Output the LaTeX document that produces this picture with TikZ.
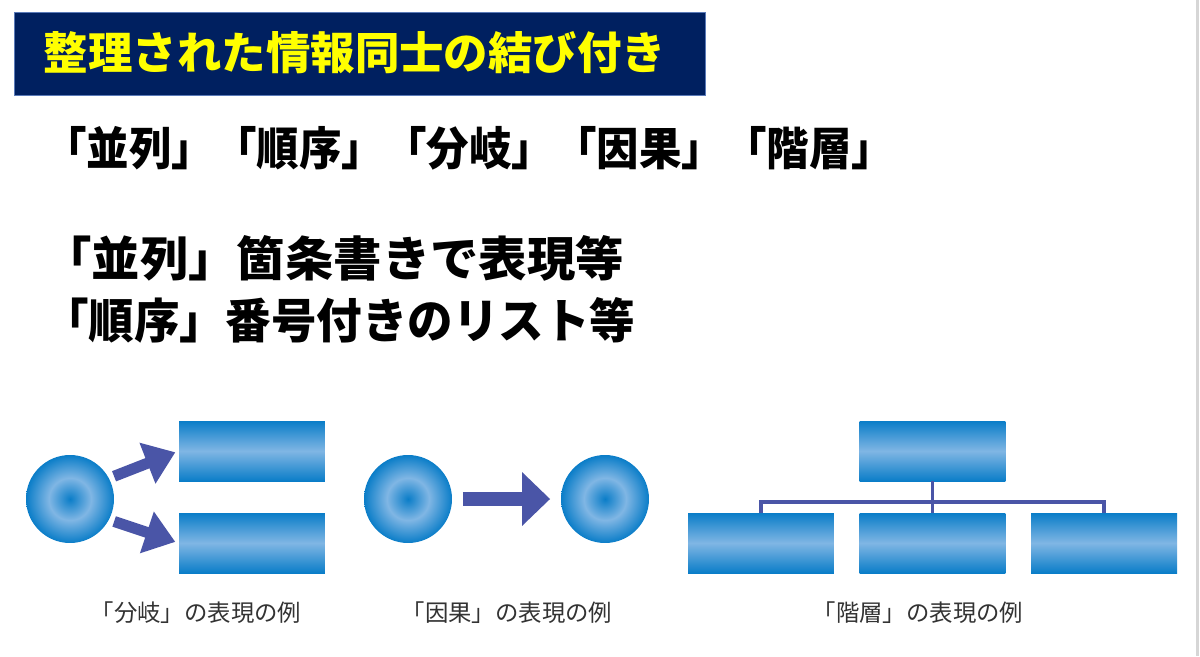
\documentclass[tikz,border=0pt]{standalone}
\usepackage{fontspec}
\usetikzlibrary{arrows.meta}
\newfontfamily\jpfont{Noto Sans CJK JP}
\definecolor{KNavy}{HTML}{002060}
\definecolor{KNavyLine}{HTML}{5A7AB8}
\definecolor{KYellow}{HTML}{FFFF00}
\definecolor{KDark}{HTML}{0A7DC8}
\definecolor{KLight}{HTML}{80B6E4}
\definecolor{KArrow}{HTML}{4A55A7}
\definecolor{KGrey}{HTML}{333333}
\definecolor{KEdge}{HTML}{D6D6D6}
\pgfdeclareradialshading{ballring}{\pgfpoint{0bp}{0bp}}{color(0bp)=(KDark); color(12bp)=(KLight); color(25bp)=(KDark); color(50bp)=(KDark)}

\tikzset{
  ball/.style={circle,minimum size=1.76cm,inner sep=0pt,shade,shading=ballring},
  bar/.style={rectangle,minimum width=2.92cm,minimum height=1.2cm,inner sep=0pt,
    top color=KDark,bottom color=KDark,middle color=KLight},
  branch/.style={KArrow,line width=0.22cm,-{Triangle[length=0.6cm,width=0.84cm]}},
  cause/.style={KArrow,line width=0.28cm,-{Triangle[length=0.56cm,width=1.04cm]}},
  treeline/.style={KArrow,line width=2pt},
  headline/.style={anchor=west,inner sep=0pt,font=\jpfont\bfseries},
  caption/.style={inner sep=0pt,text=KGrey,font=\jpfont\fontsize{13.3}{16}\selectfont}
}

\begin{document}
\begin{tikzpicture}[x=0.02cm,y=-0.02cm]
\path[use as bounding box] (0,0) rectangle (1200,656);
\fill[white] (0,0) rectangle (1200,656);
\fill[KEdge] (1196,0) rectangle (1199,656);

% title banner
\fill[KNavy] (14,12) rectangle (705,95);
\draw[KNavyLine,line width=.4pt] (14,12) rectangle (705,95);
\node[inner sep=0pt,text=KYellow,font=\jpfont\bfseries\fontsize{25.3}{30}\selectfont] (title) at (355,53) {整理された情報同士の結び付き};

% headlines
\node[headline,xscale=0.93,transform shape,font=\jpfont\bfseries\fontsize{26}{31}\selectfont] (kinds) at (44,148) {「並列」「順序」「分岐」「因果」「階層」};
\node[headline,xscale=1.02,transform shape,font=\jpfont\bfseries\fontsize{27}{32}\selectfont] (para) at (43,258) {「並列」箇条書きで表現等};
\node[headline,xscale=0.96,transform shape,font=\jpfont\bfseries\fontsize{27}{32}\selectfont] (order) at (43,320) {「順序」番号付きのリスト等};

% branching
\node[ball] (brsrc) at (70,499) {};
\node[bar] (brtop) at (252,451) {};
\node[bar] (brbot) at (252,543) {};
\draw[branch,shorten <=3pt,shorten >=2pt] (brsrc.28) -- (brtop.west);
\draw[branch,shorten <=3pt,shorten >=2pt] (brsrc.-28) -- (brbot.west);
\node[caption] (brcap) at (196,613) {「分岐」の表現の例};

% cause and effect
\node[ball] (cause) at (408,499) {};
\node[ball] (effect) at (605,499) {};
\draw[cause,shorten <=6pt,shorten >=6pt] (cause) -- (effect);
\node[caption] (cecap) at (507,613) {「因果」の表現の例};

% hierarchy
\node[bar] (root) at (932.5,451) {};
\node[bar] (kid1) at (761,543) {};
\node[bar] (kid2) at (932.5,543) {};
\node[bar] (kid3) at (1104,543) {};
\coordinate (hub) at (932.5,502);
\draw[treeline] (root.south) -- (hub);
\draw[treeline] (hub) -| (kid1.north);
\draw[treeline] (hub) -- (kid2.north);
\draw[treeline] (hub) -| (kid3.north);
\node[caption] (hicap) at (918,613) {「階層」の表現の例};
\end{tikzpicture}
\end{document}
